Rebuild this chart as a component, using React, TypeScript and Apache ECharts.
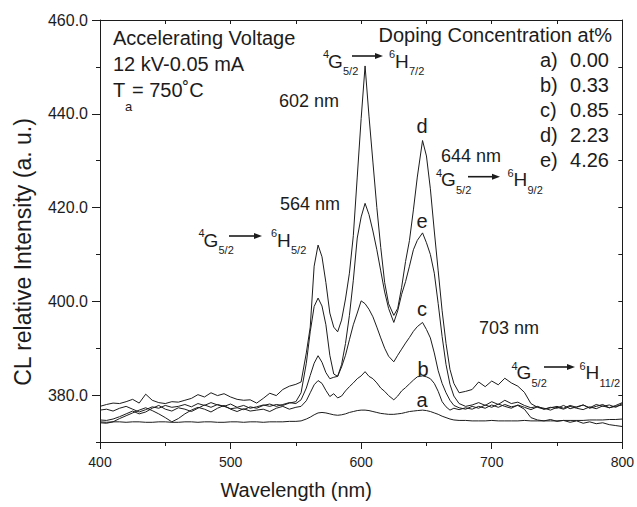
import React, { useEffect, useRef } from "react";
import * as echarts from "echarts";

const wavelengths = [
  400, 405, 410, 415, 420, 425, 430, 435, 440, 445, 450, 455, 460, 465, 470, 475, 480, 485, 490, 495, 500, 505, 510, 515, 520, 525, 530, 535, 540, 545, 550,
  554, 558, 561, 564, 567, 570, 573, 576, 579, 582, 585, 588, 591, 594, 597, 600, 603, 606, 609, 612, 615, 618, 621, 625, 628, 631, 634, 637, 640, 643, 647, 650, 653, 656, 659, 662, 665, 668, 671, 675,
  680, 685, 690, 695, 700, 705, 710, 715, 720, 725, 730, 735, 740, 745, 750, 755, 760, 765, 770, 775, 780, 785, 790, 795, 800,
];

const curveA = [
  374.3, 374.2, 374.3, 374.3, 374.2, 374.3, 374.3, 374.2, 374.2, 374.3, 374.3, 374.2, 374.2, 374.3, 374.3, 374.2, 374.3, 374.3, 374.2, 374.2, 374.3, 374.3, 374.2, 374.3, 374.3, 374.2, 374.3, 374.3, 374.3, 374.4, 374.4,
  374.5, 374.9, 375.3, 375.8, 376.2, 376.3, 376.2, 376.0, 375.8, 375.7, 375.8, 376.0, 376.3, 376.5, 376.7, 376.8, 376.8, 376.7, 376.5, 376.3, 376.1, 376.0, 375.9, 375.9, 376.0, 376.1, 376.3, 376.5, 376.6, 376.7, 376.8, 376.7, 376.5, 376.2, 375.9, 375.5, 375.2, 374.9, 374.7, 374.6,
  374.6, 374.5, 374.5, 374.5, 374.6, 374.5, 374.5, 374.5, 374.5, 374.6, 374.5, 374.5, 374.5, 374.5, 374.5, 374.6, 374.6, 374.6, 374.6, 374.7, 374.7, 374.7, 374.8, 374.8, 374.9,
];

const curveB = [
  374.1, 374.0, 374.3, 375.0, 375.6, 376.2, 376.8, 377.3, 376.7, 376.0, 375.2, 374.3, 375.0, 376.0, 376.8, 377.4, 377.0, 376.4, 377.2, 377.8, 377.0, 376.5, 377.1, 376.6, 376.8, 377.0, 376.5, 377.2, 377.6, 377.0, 377.4,
  377.6, 378.8, 380.5, 382.2, 383.1, 382.5, 381.0, 379.7, 380.3, 379.4, 379.8, 380.9, 381.8, 382.6, 383.5, 384.1, 385.0, 384.0, 383.5, 382.6, 381.5, 380.8, 379.9, 379.0, 379.8, 380.9, 381.6, 382.4, 383.2, 383.9, 384.1, 383.9, 383.5, 382.5, 380.8, 378.6, 377.5, 376.8, 377.2, 376.9,
  377.3, 377.0, 377.6, 377.2, 377.9, 377.4, 378.0, 377.5, 377.8, 377.0, 375.2, 374.7, 374.5, 374.8, 374.4, 374.6, 374.2, 374.5, 374.0, 374.3, 373.9, 374.1, 373.7, 373.5, 373.3,
];

const curveC = [
  374.7, 374.6, 374.9, 375.4, 376.0, 376.6, 376.0, 376.4, 377.2, 377.8, 377.0, 376.6, 377.3, 377.0, 376.5, 377.2, 377.9, 377.4, 378.0, 377.6, 377.1, 377.3, 376.9, 377.5, 377.2, 377.8, 378.1, 377.6, 378.0, 378.4, 378.2,
  379.0, 381.5, 384.2, 386.8, 388.4, 387.0, 384.8, 383.5, 383.8, 384.0, 386.0, 388.5, 391.8, 395.0, 397.5, 400.1, 399.5, 398.3, 396.7, 394.5, 392.2, 390.0, 388.3, 387.1, 388.5, 389.8, 391.1, 392.3, 393.6, 394.6, 395.5, 394.0, 392.2, 389.0, 385.2, 382.5, 380.5, 378.9, 377.8, 377.3,
  377.0, 377.6, 377.2, 377.9, 377.4, 378.1, 377.6, 377.2, 377.9, 377.4, 376.9, 377.5, 377.2, 376.8, 377.4, 377.0, 377.6, 377.2, 376.9, 377.5, 377.1, 377.7, 377.3, 377.6, 377.9,
];

const curveD = [
  377.6, 378.0, 378.3, 378.2, 378.6, 379.1, 378.3, 380.2, 378.9, 378.4, 378.2, 378.6, 378.5, 378.9, 379.3, 380.1, 379.6, 380.5, 379.9, 380.3, 379.6, 379.1, 378.9, 379.0, 378.3, 379.3, 380.4, 379.9, 381.2, 381.9, 382.3,
  382.8, 389.0, 394.5, 407.5, 412.0, 409.5, 404.0, 397.5, 394.5, 393.5, 396.0, 400.5, 406.0, 414.0, 426.5, 439.0, 450.2, 439.5, 429.7, 420.0, 411.5, 404.0, 399.5, 397.0, 398.5, 403.0, 408.5, 413.0, 419.5, 426.5, 434.3, 431.0, 424.0, 415.0, 406.5, 398.0, 391.0, 385.5, 382.5, 380.5,
  380.8, 381.2, 382.8, 381.8, 383.0, 382.2, 383.6, 382.6, 381.9, 380.6, 378.2, 377.4, 377.0, 377.3, 377.6, 377.2, 377.8, 377.4, 377.9, 377.3, 378.0, 377.6, 377.9, 377.4, 378.2,
];

const curveE = [
  376.8, 377.0, 376.6, 377.2, 377.6, 377.0, 376.4, 376.9, 377.5, 377.2, 377.8, 377.4, 377.6, 378.0, 377.5, 378.2, 377.8, 378.4, 377.9, 377.6, 378.1, 377.4, 377.8, 377.2, 377.5, 377.9, 377.6, 378.0, 377.8, 378.3, 378.6,
  380.5, 386.8, 393.5, 398.9, 400.7, 399.0, 395.0, 388.5, 384.5, 384.0, 386.5, 391.0, 397.0, 404.5, 413.5, 418.0, 420.9, 418.5, 415.0, 411.0, 406.5, 402.0, 398.5, 395.5, 398.0, 401.5, 404.2, 407.5, 411.0, 413.0, 414.6, 412.5, 410.0, 406.0, 399.5, 392.5, 386.5, 382.3, 379.8, 378.2,
  377.6, 377.9, 378.4, 377.8, 378.6, 378.0, 378.9, 378.2, 378.5, 377.8, 377.3, 377.6, 377.0, 377.4, 377.2, 377.8, 377.1, 377.5, 377.9, 377.2, 377.6, 378.0, 377.3, 377.8, 378.4,
];

const yMajorTicks = [380, 400, 420, 440, 460];
const legendKeys = ["a)", "b)", "c)", "d)", "e)"];
const legendValues = ["0.00", "0.33", "0.85", "2.23", "4.26"];

const FONT = "'Liberation Sans', Arial, Helvetica, sans-serif";
const INK = "#1c1c1c";

function txt(text: string, x: number, y: number, size: number, align: string = "left") {
  return {
    type: "text",
    x,
    y,
    silent: true,
    style: {
      text,
      fontSize: size,
      fontFamily: FONT,
      fill: INK,
      align,
      verticalAlign: "middle",
      textAlign: align,
      textVerticalAlign: "middle",
    },
  };
}

function transition(gx: number, cy: number, ax1: number, ax2: number, ay: number, hx: number, hSub: string) {
  const big = 19;
  const small = 11;
  return [
    txt("4", gx - 5, cy - 7, small),
    txt("G", gx, cy, big),
    txt("5/2", gx + 15, cy + 10, small),
    {
      type: "line",
      silent: true,
      shape: { x1: ax1, y1: ay, x2: ax2 - 5, y2: ay },
      style: { stroke: INK, lineWidth: 1.6 },
    },
    {
      type: "polygon",
      silent: true,
      shape: { points: [[ax2, ay], [ax2 - 8, ay - 3], [ax2 - 8, ay + 3]] },
      style: { fill: INK },
    },
    txt("6", hx - 6, cy - 7, small),
    txt("H", hx, cy, big),
    txt(hSub, hx + 14, cy + 10, small),
  ];
}

export default function App() {
  const ref = useRef<HTMLDivElement>(null);

  useEffect(() => {
    if (!ref.current) return;
    const chart = echarts.init(ref.current, null, { renderer: "svg" });
    const curves = [curveA, curveB, curveC, curveD, curveE];
    const names = ["a", "b", "c", "d", "e"];

    const axisLine = { show: true, lineStyle: { color: INK, width: 1 } };

    const graphics: any[] = [
      txt("Accelerating Voltage", 113, 37.5, 20),
      txt("12 kV-0.05 mA", 113, 63.5, 20),
      txt("T", 113, 89.5, 20),
      txt("a", 125, 106, 13),
      txt("= 750˚C", 132, 89.5, 20),
      txt("Doping Concentration at%", 612, 35, 20, "right"),
      txt("602 nm", 279, 101, 18),
      txt("564 nm", 280, 204, 18),
      txt("644 nm", 441, 156, 18),
      txt("703 nm", 479, 328, 18),
      txt("d", 422, 126, 20, "center"),
      txt("e", 422, 221, 20, "center"),
      txt("c", 422, 309, 20, "center"),
      txt("b", 423, 369, 20, "center"),
      txt("a", 422, 400, 20, "center"),
      ...transition(328, 61, 352, 383, 56, 395, "7/2"),
      ...transition(203.5, 240, 229, 262, 236, 277, "5/2"),
      ...transition(441, 179.5, 468, 500, 176.7, 513.5, "9/2"),
      ...transition(516.5, 372.5, 544, 575, 367, 585.5, "11/2"),
    ];
    legendKeys.forEach((k, i) => {
      graphics.push(txt(k, 540, 60 + i * 25, 20));
      graphics.push(txt(legendValues[i], 609, 60 + i * 25, 20, "right"));
    });

    chart.setOption({
      animation: false,
      backgroundColor: "#ffffff",
      textStyle: { fontFamily: FONT },
      grid: { left: 100, right: 14, top: 20, bottom: 65, containLabel: false },
      xAxis: [
        {
          type: "value",
          min: 400,
          max: 800,
          interval: 100,
          position: "bottom",
          axisLine,
          axisTick: { show: true, length: 7, inside: false, lineStyle: { color: INK } },
          minorTick: { show: true, splitNumber: 2, length: 4, lineStyle: { color: INK } },
          splitLine: { show: false },
          axisLabel: { fontSize: 14, color: INK, margin: 13, fontFamily: FONT },
          name: "Wavelength (nm)",
          nameLocation: "middle",
          nameGap: 38,
          nameTextStyle: { fontSize: 20, color: INK, fontFamily: FONT, padding: [0, 130, 0, 0] },
        },
        {
          type: "value",
          min: 400,
          max: 800,
          interval: 50,
          position: "top",
          axisLine,
          axisTick: { show: true, length: 4, inside: true, lineStyle: { color: INK } },
          axisLabel: { show: false },
          splitLine: { show: false },
        },
      ],
      yAxis: [
        {
          type: "value",
          min: 370,
          max: 460,
          interval: 10,
          position: "left",
          axisLine,
          axisTick: { show: true, length: 4, lineStyle: { color: INK } },
          splitLine: { show: false },
          axisLabel: {
            fontSize: 16,
            color: INK,
            margin: 12,
            fontFamily: FONT,
            formatter: (v: number) => ((Math.round(v) - 380) % 20 === 0 ? v.toFixed(1) : ""),
          },
          name: "CL relative Intensity (a. u.)",
          nameLocation: "middle",
          nameGap: 66,
          nameTextStyle: { fontSize: 23, color: INK, fontFamily: FONT, padding: [0, 42, 0, 0] },
        },
        {
          type: "value",
          min: 370,
          max: 460,
          interval: 10,
          position: "left",
          axisLine: { show: false },
          axisTick: { show: true, length: 8, customValues: yMajorTicks, lineStyle: { color: INK } },
          axisLabel: { show: false },
          splitLine: { show: false },
        },
        {
          type: "value",
          min: 370,
          max: 460,
          interval: 10,
          position: "right",
          axisLine,
          axisTick: { show: true, length: 4, inside: true, lineStyle: { color: INK } },
          axisLabel: { show: false },
          splitLine: { show: false },
        },
      ],
      graphic: { elements: graphics },
      series: curves.map((c, i) => ({
        name: names[i],
        type: "line",
        xAxisIndex: 0,
        yAxisIndex: 0,
        data: wavelengths.map((w, j) => [w, c[j]]),
        showSymbol: false,
        symbol: "none",
        silent: true,
        lineStyle: { color: INK, width: 1 },
      })),
    });

    return () => chart.dispose();
  }, []);

  return (
    <div
      ref={ref}
      style={{ position: "fixed", left: 0, top: 0, width: 637, height: 507, background: "#fff" }}
    />
  );
}
